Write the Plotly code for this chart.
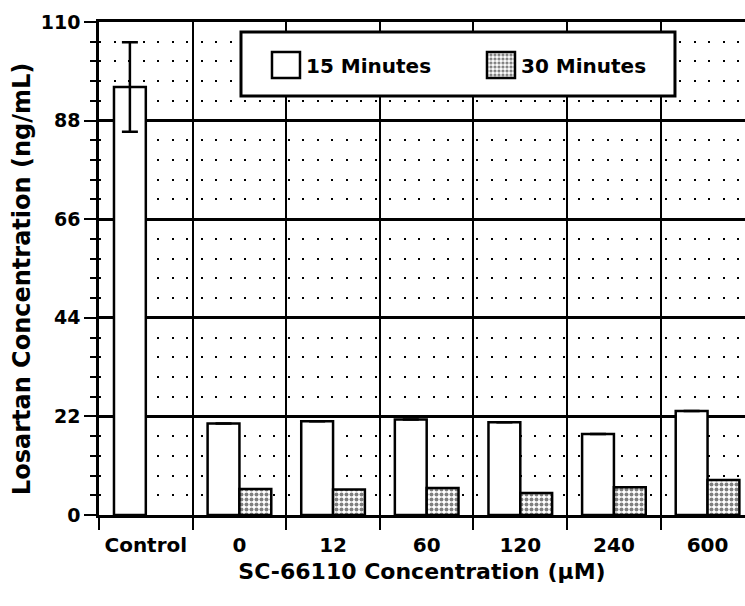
import plotly.graph_objects as go

# ---- data ----
categories = ["Control", "0", "12", "60", "120", "240", "600"]
min15 = [95.5, 20.4, 20.9, 21.3, 20.7, 18.1, 23.2]
min30 = [None, 5.8, 5.7, 6.0, 4.9, 6.2, 7.8]
err15 = [10.0, None, None, None, None, None, None]
series_names = ["15 Minutes", "30 Minutes"]
y_title = "Losartan Concentration (ng/mL)"
x_title = "SC-66110 Concentration (µM)"

FONT = "DejaVu Sans"

fig = go.Figure()
fig.add_trace(go.Bar(
    name=series_names[0], x=categories, y=min15,
    marker=dict(color="white", line=dict(color="black", width=2.5)),
    error_y=dict(type="data", array=err15, visible=True, color="black",
                 thickness=2.5, width=8),
))
fig.add_trace(go.Bar(
    name=series_names[1], x=categories, y=min30,
    marker=dict(color="white", line=dict(color="black", width=2.5),
                pattern=dict(shape=".", fgcolor="black", bgcolor="white",
                             size=5, solidity=0.5)),
))

fig.update_layout(
    width=745, height=606,
    margin=dict(l=99, r=0, t=22, b=91),
    barmode="group", bargap=0.32, bargroupgap=0,
    plot_bgcolor="white", paper_bgcolor="white",
    font=dict(family=FONT, color="black"),
    showlegend=True,
    legend=dict(orientation="h", x=0.2585, y=0.913, xanchor="left", yanchor="middle",
                bgcolor="rgba(0,0,0,0)", borderwidth=0, entrywidth=170,
                font=dict(family=FONT, size=20, weight="bold", color="black")),
    xaxis=dict(
        type="category", range=[-0.5, 6.40], tickson="boundaries",
        ticks="outside", ticklen=12, tickwidth=2, tickcolor="black",
        ticklabelstandoff=10,
        showgrid=True, gridcolor="black", gridwidth=2,
        showline=True, linecolor="black", linewidth=3, mirror=True,
        zeroline=False,
        tickfont=dict(family=FONT, size=20, weight="bold"),
        title=dict(text=x_title, font=dict(family=FONT, size=22, weight="bold"), standoff=8),
    ),
    yaxis=dict(
        range=[0, 110], tick0=0, dtick=22,
        ticks="outside", ticklen=12, tickwidth=2, tickcolor="black",
        showgrid=True, gridcolor="black", gridwidth=2.5,
        showline=True, linecolor="black", linewidth=2.5,
        zeroline=False,
        tickfont=dict(family=FONT, size=19, weight="bold"),
        minor=dict(dtick=4.4, tick0=0, ticks="outside", ticklen=6, tickwidth=2,
                   tickcolor="black", showgrid=True, gridcolor="black",
                   gridwidth=2, griddash="2px,12.5px"),
    ),
    annotations=[dict(text=y_title, textangle=-90, xref="paper", yref="paper",
                      x=-0.119, y=0.4787, xanchor="center", yanchor="middle",
                      showarrow=False,
                      font=dict(family=FONT, size=24, weight="bold", color="black"))],
    shapes=[dict(type="rect", xref="paper", yref="paper",
                 x0=0.2198, x1=0.8916, y0=0.850, y1=0.9797,
                 line=dict(color="black", width=3), fillcolor="white", layer="above")],
)

post = """
var gd = document.getElementById('{plot_id}');
var BIG = 'M14,13H-14V-13H14Z';
function bigIcons(){
  gd.querySelectorAll('g.legendpoints path').forEach(function(p){
    if (p.getAttribute('d') !== BIG) { p.setAttribute('d', BIG); }
  });
}
bigIcons();
new MutationObserver(bigIcons).observe(gd, {subtree: true, childList: true, attributes: true, attributeFilter: ['d']});
setTimeout(bigIcons, 50);
setTimeout(bigIcons, 400);
"""
fig.write_html("out.html", post_script=post)
